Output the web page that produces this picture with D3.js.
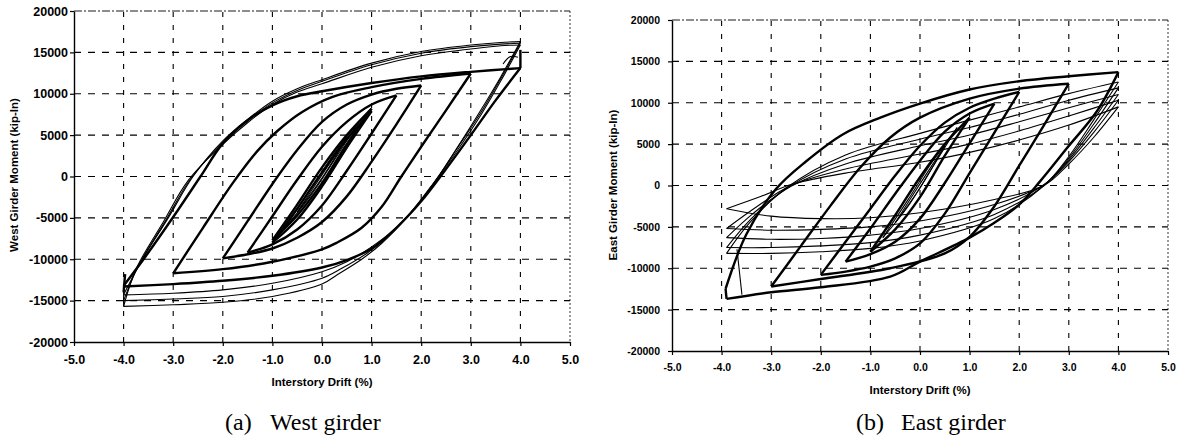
<!DOCTYPE html>
<html>

<head>
    <meta charset="utf-8" />
    <title>Girder Moment vs Interstory Drift</title>
    <script src="https://d3js.org/d3.v7.min.js"></script>
    <style>
        body {
            margin: 0;
            background: #fff;
        }

        svg {
            display: block;
        }

        .axis-title {
            font-family: "Liberation Sans", Arial, sans-serif;
            font-weight: bold;
            font-size: 11.5px;
        }

        .caption {
            font-family: "Liberation Serif", "Times New Roman", serif;
            font-size: 24px;
        }
    </style>
</head>

<body>
    <svg width="1181" height="442"></svg>
    <script>
        // axis ticks
        var driftTicks = [-5, -4, -3, -2, -1, 0, 1, 2, 3, 4, 5];
        var momentTicks = [-20000, -15000, -10000, -5000, 0, 5000, 10000, 15000, 20000];

        // West girder, branches of [drift %, moment kip-in]
        var westThin = [
            // early 4% cycles, loading to +4
            [[-4, -14300], [-3.65, -10300], [-3.1, -5000], [-2.6, 0], [-2, 4300], [-1.5, 6900], [-1, 9100], [-0.5, 10600], [0, 11700], [1, 13700], [2, 15100], [3, 15900], [3.6, 16200], [4, 16300]],
            [[-4, -15000], [-3.7, -10800], [-3.15, -5300], [-2.65, -300], [-2, 4100], [-1.5, 6700], [-1, 8900], [-0.5, 10400], [0, 11500], [1, 13500], [2, 14900], [3, 15700], [3.6, 16000], [4, 16100]],
            [[-4, -15700], [-3.75, -11200], [-3.2, -5500], [-2.7, -500], [-2, 3900], [-1.5, 6500], [-1, 8700], [-0.5, 10200], [0, 11200], [1, 13200], [2, 14600], [3, 15400], [3.6, 15800], [4, 15900]],
            // early 4% cycles, loading to -4
            [[4, 16300], [3.6, 12000], [3.2, 8000], [2.75, 3700], [2.35, 0], [1.9, -3600], [1.4, -6700], [1, -8500], [0.5, -10300], [0, -11500], [-1, -12900], [-2, -13700], [-3, -14100], [-4, -14300]],
            [[4, 16100], [3.6, 11800], [3.2, 7700], [2.7, 3200], [2.3, -400], [1.8, -4300], [1.3, -7400], [0.9, -9300], [0.4, -11100], [0, -12300], [-1, -13700], [-2, -14500], [-3, -14800], [-4, -15000]],
            [[4, 15900], [3.6, 11500], [3.2, 7400], [2.7, 2900], [2.25, -800], [1.7, -5000], [1.2, -8100], [0.8, -10000], [0.3, -11900], [0, -13000], [-1, -14500], [-2, -15200], [-3, -15500], [-4, -15700]],
            [[-4, -15700], [-4, -13200]],
            // small elastic cycles
            [[-0.5, -4300], [0, 200], [0.5, 4700]],
            [[0.5, 4700], [0, -200], [-0.5, -4300]],
            [[-0.75, -6200], [-0.25, -1700], [0.25, 2800], [0.75, 6700]],
            [[0.75, 6700], [0.25, 2000], [-0.25, -2500], [-0.75, -6200]],
            // small reversal near +4
            [[3.65, 13600], [3.8, 14500], [3.95, 14400]]
        ];

        var westBold = [
            // 1% cycles
            [[-1, -7700], [-0.5, -3400], [0, 1100], [0.5, 5000], [1, 8200]],
            [[1, 8200], [0.5, 3900], [0, -800], [-0.5, -4700], [-1, -7700]],
            [[-1, -8000], [-0.5, -3900], [0, 500], [0.5, 4500], [1, 7900]],
            [[1, 7900], [0.5, 3500], [0, -1200], [-0.5, -5200], [-1, -8000]],
            // 1.5%
            [[-1.5, -9200], [-1, -4800], [-0.5, -400], [0, 3600], [0.5, 6600], [1, 8700], [1.5, 9800]],
            [[1.5, 9800], [1, 5200], [0.5, 700], [0, -3500], [-0.5, -6400], [-1, -8200], [-1.5, -9200]],
            // 2%
            [[-2, -9900], [-1.5, -5400], [-1, -900], [-0.5, 3200], [0, 6600], [0.5, 8700], [1, 9900], [1.5, 10600], [2, 11000]],
            [[2, 11000], [1.5, 6300], [1, 1800], [0.5, -2400], [0, -5500], [-0.5, -7400], [-1, -8700], [-1.5, -9400], [-2, -9900]],
            // 3%
            [[-3, -11700], [-2.4, -6200], [-1.8, -800], [-1.3, 3100], [-0.9, 5500], [-0.4, 7800], [0.2, 9600], [1, 10800], [2, 11800], [3, 12450]],
            [[3, 12450], [2.5, 8000], [2, 3600], [1.6, 0], [1.2, -3700], [0.8, -6200], [0.3, -8000], [0, -8800], [-1, -10300], [-2, -11200], [-3, -11700]],
            // last 4% cycle
            [[-4, -13200], [-3.55, -9600], [-3, -4900], [-2.45, 0], [-2, 4000], [-1.5, 6800], [-1, 8600], [-0.5, 9700], [0, 10300], [1, 11300], [2, 12100], [3, 12650], [4, 13100]],
            [[4, 13100], [3.5, 9200], [3, 5000], [2.5, 900], [2, -3000], [1.5, -6200], [1, -8700], [0.5, -10100], [0, -11000], [-1, -12000], [-2, -12600], [-3, -13000], [-4, -13300]],
            [[-4, -14000], [-3.97, -11800]],
            [[4, 13100], [4, 15300]]
        ];

        // East girder
        var eastThin = [
            // degraded 4% cycles, loading to +4
            [[-3.9, -2800], [-3.2, -1300], [-2.55, 200], [-1.5, 1500], [0, 2800], [1, 4000], [2, 5500], [3, 7300], [4, 9500]],
            [[-3.9, -5200], [-3.3, -2600], [-2.6, 0], [-1.5, 2000], [0, 3800], [1, 5000], [2, 6600], [3, 8400], [4, 10300]],
            [[-3.9, -6300], [-3.35, -3300], [-2.6, -100], [-1.5, 2600], [0, 4800], [1, 6100], [2, 7700], [3, 9400], [4, 11000]],
            [[-3.9, -7500], [-3.4, -4000], [-2.65, -200], [-1.5, 3200], [0, 5600], [1, 7000], [2, 8600], [3, 10300], [4, 11800]],
            [[-3.9, -8200], [-3.45, -4600], [-2.7, -300], [-1.5, 3700], [0, 6300], [1, 7900], [2, 9500], [3, 11100], [4, 12500]],
            // degraded 4% cycles, loading to -4
            [[4, 9500], [3.5, 5800], [3, 2600], [2.5, 0], [1.5, -1700], [0, -3300], [-1, -3900], [-2, -4000], [-3, -3700], [-3.9, -2800]],
            [[4, 10300], [3.5, 6400], [3, 2900], [2.5, 100], [1.5, -2300], [0, -4300], [-1, -5000], [-2, -5300], [-3, -5400], [-3.9, -5200]],
            [[4, 11000], [3.5, 6900], [3, 3100], [2.5, 100], [1.5, -2900], [0, -5200], [-1, -6000], [-2, -6400], [-3, -6500], [-3.9, -6300]],
            [[4, 11800], [3.5, 7400], [3, 3300], [2.5, 0], [1.5, -3500], [0, -6000], [-1, -6900], [-2, -7300], [-3, -7500], [-3.9, -7500]],
            [[4, 12500], [3.5, 7900], [3, 3500], [2.5, 0], [1.5, -4000], [0, -6700], [-1, -7600], [-2, -8000], [-3, -8200], [-3.9, -8200]],
            [[-3.69, -7700], [-3.59, -13200]],
            // small elastic cycles
            [[-0.5, -4500], [0, 200], [0.5, 4800]],
            [[0.5, 4800], [0, -300], [-0.5, -4500]],
            [[-0.75, -6300], [-0.25, -1800], [0.25, 2900], [0.75, 7000]],
            [[0.75, 7000], [0.25, 2200], [-0.25, -2600], [-0.75, -6300]]
        ];

        var eastBold = [
            // 1%
            [[-1, -8000], [-0.5, -3600], [0, 1000], [0.5, 5000], [1, 8200]],
            [[1, 8200], [0.5, 3600], [0, -1400], [-0.5, -5300], [-1, -8000]],
            // 1.5%
            [[-1.5, -9200], [-1, -5200], [-0.5, -1000], [0, 3000], [0.5, 6500], [1, 8700], [1.5, 9900]],
            [[1.5, 9900], [1, 5100], [0.5, 300], [0, -4000], [-0.5, -6800], [-1, -8300], [-1.5, -9200]],
            // 2%
            [[-2, -10800], [-1.5, -6800], [-1, -2800], [-0.5, 1200], [0, 4800], [0.5, 7600], [1, 9400], [1.5, 10500], [2, 11300]],
            [[2, 11300], [1.5, 6400], [1, 1500], [0.5, -3400], [0, -7000], [-0.5, -8800], [-1, -9800], [-1.5, -10400], [-2, -10800]],
            // 3%
            [[-3, -12200], [-2.4, -7300], [-1.8, -2400], [-1.2, 2200], [-0.6, 5800], [0, 8200], [1, 10500], [2, 11700], [3, 12300]],
            [[3, 12300], [2.5, 7300], [2, 2400], [1.5, -2500], [1, -6200], [0.5, -8200], [-0.6, -10000], [-2, -11300], [-3, -12200]],
            // first 4% cycle
            [[-3.9, -13700], [-3.92, -12500]],
            [[-3.92, -12500], [-3.5, -5900], [-2.9, -400], [-2.3, 2900], [-1.55, 6200], [-0.8, 8200], [0, 9900], [1, 11600], [2, 12600], [3, 13200], [4, 13700]],
            [[4, 13700], [3.57, 9000], [2.96, 4500], [2.42, 500], [2, -2300], [1.5, -4500], [1, -6300], [0, -9200], [-0.6, -11000], [-2, -12300], [-3, -12900], [-3.9, -13700]]
        ];

        var svg = d3.select("svg");

        function drawPanel(cfg) {
            var x = d3.scaleLinear().domain([-5, 5]).range([cfg.left, cfg.right]);
            var y = d3.scaleLinear().domain([-20000, 20000]).range([cfg.bottom, cfg.top]);
            var g = svg.append("g");

            // dashed grid
            g.selectAll(".vgrid")
                .data(driftTicks.filter(function (d) { return d > -5 && d < 5; }))
                .enter().append("line")
                .attr("x1", function (d) { return x(d); })
                .attr("x2", function (d) { return x(d); })
                .attr("y1", y(-20000))
                .attr("y2", y(20000))
                .attr("stroke", "#000")
                .attr("stroke-width", 1.1)
                .attr("stroke-dasharray", "5,8");

            g.selectAll(".hgrid")
                .data(momentTicks.filter(function (d) { return d > -20000 && d < 20000; }))
                .enter().append("line")
                .attr("x1", x(-5))
                .attr("x2", x(5))
                .attr("y1", function (d) { return y(d); })
                .attr("y2", function (d) { return y(d); })
                .attr("stroke", "#000")
                .attr("stroke-width", 1.1)
                .attr("stroke-dasharray", "7,7");

            // top and right frame
            g.append("line")
                .attr("x1", x(-5)).attr("x2", x(5))
                .attr("y1", y(20000)).attr("y2", y(20000))
                .attr("stroke", "#000").attr("stroke-width", 0.9)
                .attr("stroke-dasharray", "8,2,2,2");
            g.append("line")
                .attr("x1", x(5)).attr("x2", x(5))
                .attr("y1", y(20000)).attr("y2", y(-20000))
                .attr("stroke", "#000").attr("stroke-width", 0.8)
                .attr("stroke-dasharray", "2,2");

            var line = d3.line()
                .x(function (d) { return x(d[0]); })
                .y(function (d) { return y(d[1]); })
                .curve(d3.curveCatmullRom.alpha(0.5));

            g.selectAll(".thin")
                .data(cfg.thin)
                .enter().append("path")
                .attr("d", line)
                .attr("fill", "none")
                .attr("stroke", "#000")
                .attr("stroke-width", 1.1);

            g.selectAll(".bold")
                .data(cfg.bold)
                .enter().append("path")
                .attr("d", line)
                .attr("fill", "none")
                .attr("stroke", "#000")
                .attr("stroke-width", 2.4)
                .attr("stroke-linejoin", "round");

            // axes
            var xAxis = g.append("g")
                .attr("transform", "translate(0," + y(-20000) + ")")
                .call(d3.axisBottom(x).tickValues(driftTicks)
                    .tickFormat(function (d) { return d.toFixed(1); })
                    .tickSize(4).tickSizeOuter(0).tickPadding(cfg.xPad));
            var yAxis = g.append("g")
                .attr("transform", "translate(" + x(-5) + ",0)")
                .call(d3.axisLeft(y).tickValues(momentTicks)
                    .tickFormat(function (d) { return String(d); })
                    .tickSize(4).tickSizeOuter(0).tickPadding(cfg.yPad));

            [xAxis, yAxis].forEach(function (a) {
                a.select(".domain").attr("stroke-width", 1.4);
                a.selectAll(".tick line").attr("stroke-width", 1.2);
                a.selectAll("text")
                    .attr("font-family", "'Liberation Sans', Arial, sans-serif")
                    .attr("font-weight", "bold")
                    .attr("font-size", cfg.tickFont);
            });

            // axis titles
            g.append("text")
                .attr("class", "axis-title")
                .attr("x", x(0))
                .attr("y", cfg.xTitleY)
                .attr("text-anchor", "middle")
                .text("Interstory Drift (%)");
            g.append("text")
                .attr("class", "axis-title")
                .attr("transform", "translate(" + cfg.yTitleX + "," + cfg.yTitleCY + ") rotate(-90)")
                .attr("text-anchor", "middle")
                .attr("dy", "0.35em")
                .text(cfg.yTitle);

            // caption: label and description
            g.append("text")
                .attr("class", "caption")
                .attr("x", cfg.captionX)
                .attr("y", 430)
                .text(cfg.captionTag);
            g.append("text")
                .attr("class", "caption")
                .attr("x", cfg.captionX + cfg.captionGap)
                .attr("y", 430)
                .text(cfg.caption);
        }

        drawPanel({
            left: 74, right: 570, top: 11, bottom: 342,
            thin: westThin, bold: westBold,
            xPad: 9, yPad: 2, tickFont: "12.5px",
            xTitleY: 386, yTitleX: 14, yTitleCY: 175,
            yTitle: "West Girder Moment (kip-In)",
            captionX: 225, captionGap: 45, captionTag: "(a)", caption: "West girder"
        });

        drawPanel({
            left: 672, right: 1168, top: 20, bottom: 351,
            thin: eastThin, bold: eastBold,
            xPad: 9, yPad: 8, tickFont: "10.5px",
            xTitleY: 394, yTitleX: 613, yTitleCY: 185,
            yTitle: "East Girder Moment (kip-In)",
            captionX: 856, captionGap: 45, captionTag: "(b)", caption: "East girder"
        });
    </script>
</body>

</html>
